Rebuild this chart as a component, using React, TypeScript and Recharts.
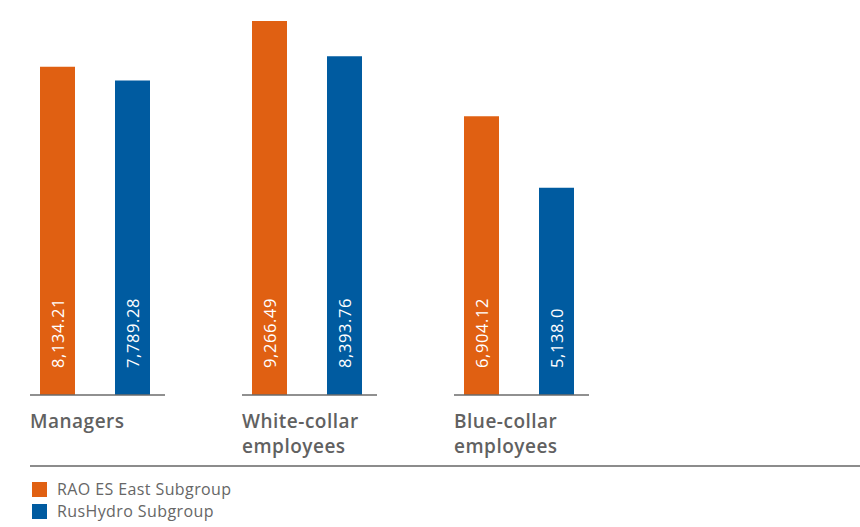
import React from "react";
import { BarChart, Bar, XAxis, YAxis, Legend, LabelList } from "recharts";

const categories = ["Managers", "White-collar\nemployees", "Blue-collar\nemployees"];
const raoValues = [8134.21, 9266.49, 6904.12];
const rusHydroValues = [7789.28, 8393.76, 5138.0];
const seriesNames = ["RAO ES East Subgroup", "RusHydro Subgroup"];
const valueLabels = [
  ["8,134.21", "9,266.49", "6,904.12"],
  ["7,789.28", "8,393.76", "5,138.0"],
];

const ORANGE = "#E06012";
const BLUE = "#005BA0";
const FONT = "'Open Sans', sans-serif";

const data = categories.map((name, i) => ({
  name,
  rao: raoValues[i],
  rus: rusHydroValues[i],
  raoLabel: valueLabels[0][i],
  rusLabel: valueLabels[1][i],
}));

// category label + short axis segment under each group
const GroupTick = (props: any) => {
  const { x, y, payload } = props;
  const lines = String(payload.value).split("\n");
  const left = x - 65;
  return (
    <g>
      <line x1={left} x2={x + 70} y1={y} y2={y} stroke="#6b6b6b" strokeWidth={1.5} />
      <text
        x={left}
        y={y + 33}
        fill="#616161"
        fontSize={19}
        fontWeight={600}
        letterSpacing={0.5}
        fontFamily={FONT}
      >
        {lines.map((l, i) => (
          <tspan key={i} x={left} dy={i === 0 ? 0 : 25}>
            {l}
          </tspan>
        ))}
      </text>
    </g>
  );
};

const ValueLabel = (props: any) => {
  const { x, y, width, height, value } = props;
  const cx = x + width / 2;
  const by = y + height - 27;
  return (
    <text
      x={cx}
      y={by}
      transform={`rotate(-90 ${cx} ${by})`}
      textAnchor="start"
      dominantBaseline="central"
      fill="#ffffff"
      fontSize={16.5}
      letterSpacing={0.6}
      fontFamily={FONT}
    >
      {value}
    </text>
  );
};

const renderLegend = () => (
  <div style={{ borderTop: "2px solid #8c8c8c", marginLeft: 30, paddingTop: 11 }}>
    {seriesNames.map((n, i) => (
      <div key={n} style={{ display: "flex", alignItems: "center", height: 22, marginLeft: 2 }}>
        <span style={{ width: 15, height: 15, background: i === 0 ? ORANGE : BLUE, display: "inline-block" }} />
        <span style={{ marginLeft: 10, fontSize: 16, letterSpacing: 0.4, color: "#666666", fontFamily: FONT }}>
          {n}
        </span>
      </div>
    ))}
  </div>
);

export default function App() {
  return (
    <div style={{ position: "absolute", left: 0, top: 0, width: 860, height: 527, background: "#fff" }}>
      <BarChart
        width={860}
        height={527}
        data={data}
        margin={{ top: 21, right: 235, left: -11, bottom: 0 }}
        barSize={35}
        barGap={40}
      >
        <XAxis
          dataKey="name"
          axisLine={false}
          tickLine={false}
          tickSize={0}
          tickMargin={0}
          height={70}
          interval={0}
          tick={<GroupTick />}
        />
        <YAxis hide domain={[0, 9266.49]} />
        <Legend
          verticalAlign="bottom"
          align="left"
          height={62}
          content={renderLegend}
          wrapperStyle={{ left: 0, width: 860 }}
        />
        <Bar dataKey="rao" name={seriesNames[0]} fill={ORANGE} isAnimationActive={false}>
          <LabelList dataKey="raoLabel" content={<ValueLabel />} />
        </Bar>
        <Bar dataKey="rus" name={seriesNames[1]} fill={BLUE} isAnimationActive={false}>
          <LabelList dataKey="rusLabel" content={<ValueLabel />} />
        </Bar>
      </BarChart>
    </div>
  );
}
